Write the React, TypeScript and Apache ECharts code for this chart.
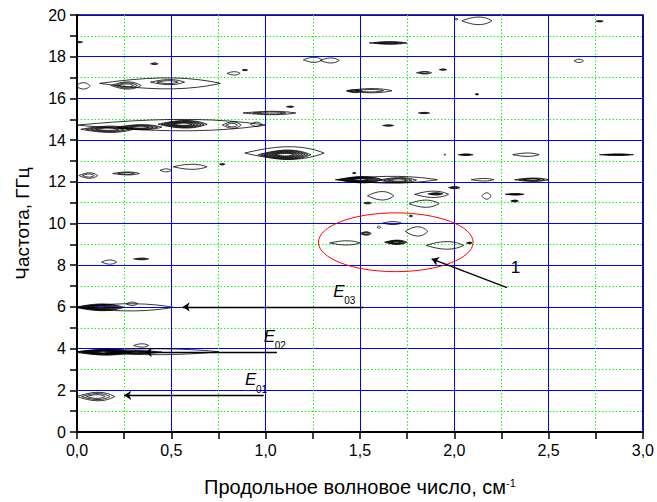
import React, { useEffect, useRef } from "react";
import * as echarts from "echarts";

// Axis settings
const xTicks = { min: 0, max: 3, interval: 0.5 };
const yTicks = { min: 0, max: 20, interval: 2 };

// Contour blobs: [x, y, halfWidth(x units), halfHeight(y units), levels]
const contoursTop: number[][] = [
  [2.12, 19.72, 0.08, 0.18, 1], [2.01, 19.8, 0.01, 0.03, 1], [2.77, 19.7, 0.02, 0.03, 2],
  [0.01, 18.7, 0.02, 0.03, 2], [1.65, 18.66, 0.1, 0.06, 3], [0.41, 17.66, 0.02, 0.04, 2],
  [1.25, 17.85, 0.05, 0.12, 1], [1.34, 17.82, 0.05, 0.12, 1], [0.83, 17.2, 0.035, 0.08, 1],
  [0.89, 17.36, 0.015, 0.03, 2], [1.84, 17.23, 0.04, 0.06, 2], [1.94, 17.38, 0.02, 0.03, 2],
  [2.66, 17.8, 0.025, 0.08, 1], [0.03, 16.6, 0.04, 0.15, 1], [0.44, 16.72, 0.32, 0.26, 1],
  [0.26, 16.62, 0.08, 0.17, 3], [0.48, 16.78, 0.09, 0.12, 2], [1.55, 16.37, 0.12, 0.1, 2],
  [1.47, 16.35, 0.04, 0.07, 2], [2.12, 16.2, 0.01, 0.03, 2], [1.84, 15.3, 0.03, 0.03, 2],
  [1.65, 14.7, 0.03, 0.03, 2], [1.13, 15.6, 0.02, 0.03, 2], [1.02, 15.3, 0.14, 0.08, 2],
];
const contoursMid: number[][] = [
  [0.5, 14.72, 0.5, 0.27, 1], [0.16, 14.52, 0.14, 0.15, 4], [0.33, 14.62, 0.12, 0.12, 4],
  [0.56, 14.76, 0.13, 0.18, 6], [0.82, 14.72, 0.05, 0.15, 2], [0.95, 14.76, 0.03, 0.1, 1],
  [1.1, 13.38, 0.21, 0.3, 1], [1.1, 13.3, 0.14, 0.22, 7], [2.06, 13.3, 0.04, 0.03, 3],
  [2.38, 13.3, 0.07, 0.08, 1], [2.86, 13.3, 0.09, 0.03, 3], [1.95, 13.3, 0.005, 0.02, 1],
  [0.77, 12.84, 0.015, 0.03, 2], [0.06, 12.3, 0.05, 0.13, 2], [0.26, 12.4, 0.07, 0.07, 2],
  [0.47, 12.55, 0.03, 0.07, 1], [0.6, 12.72, 0.09, 0.12, 1], [1.64, 12.1, 0.27, 0.16, 1],
  [1.5, 12.1, 0.12, 0.15, 7], [1.7, 12.08, 0.1, 0.12, 3], [1.47, 12.42, 0.01, 0.03, 2],
  [2.15, 12.1, 0.06, 0.06, 1], [2.41, 12.1, 0.09, 0.08, 3],
  [1.61, 11.33, 0.07, 0.2, 1], [1.88, 11.4, 0.09, 0.15, 1], [1.9, 11.42, 0.04, 0.05, 3],
  [2.0, 11.72, 0.03, 0.05, 3], [2.17, 11.32, 0.025, 0.15, 1], [2.32, 11.4, 0.05, 0.03, 3],
  [2.32, 11.08, 0.02, 0.04, 3], [1.84, 10.95, 0.08, 0.17, 1], [1.54, 10.98, 0.02, 0.04, 2],
];
const contoursLow: number[][] = [
  [1.77, 10.36, 0.01, 0.04, 2], [1.67, 10.02, 0.05, 0.07, 1], [1.53, 9.52, 0.03, 0.08, 3],
  [1.6, 9.82, 0.01, 0.05, 1], [1.8, 9.62, 0.06, 0.22, 1], [1.42, 9.07, 0.08, 0.1, 1],
  [1.69, 9.1, 0.06, 0.1, 5], [1.95, 8.95, 0.1, 0.18, 1], [2.08, 9.07, 0.015, 0.03, 3],
  [0.17, 8.15, 0.04, 0.1, 1], [0.34, 8.3, 0.04, 0.04, 2],
  [0.25, 5.98, 0.26, 0.17, 1], [0.12, 5.98, 0.13, 0.16, 6], [0.29, 6.15, 0.03, 0.08, 1],
  [0.37, 3.85, 0.38, 0.14, 1], [0.14, 3.83, 0.15, 0.14, 7], [0.3, 3.83, 0.15, 0.07, 4],
  [0.34, 4.15, 0.04, 0.08, 1], [0.1, 1.7, 0.1, 0.2, 3],
];

// Arrows: [fromX, fromY, toX, toY]
const arrows: number[][] = [
  [1.52, 6.0, 0.56, 6.0],
  [1.06, 3.82, 0.36, 3.82],
  [0.99, 1.76, 0.25, 1.76],
  [2.28, 6.92, 1.88, 8.3],
];

// Mode labels: [x, y(baseline), main, subscript]
const modeLabels: (string | number)[][] = [
  [1.358, 6.49, "E", "03"],
  [0.99, 4.34, "E", "02"],
  [0.89, 2.24, "E", "01"],
  [2.3, 7.64, "1", ""],
];

// Highlight ellipse: [cx, cy, rx, ry]
const highlight: number[][] = [[1.69, 9.1, 0.41, 1.41]];

const FONT = "Arial, 'Liberation Sans', sans-serif";

function contourRender(_params: any, api: any) {
  const cx = api.value(0), cy = api.value(1), rx = api.value(2), ry = api.value(3), lv = api.value(4);
  const c = api.coord([cx, cy]);
  const s = api.size([rx, ry]);
  const children: any[] = [];
  for (let i = 0; i < lv; i++) {
    const kx = 1 - (i / lv) * 0.75;
    const ky = 1 - (i / lv) * 0.85;
    const pts: number[][] = [];
    const n = 28;
    for (let j = 0; j < n; j++) {
      const t = (j / n) * Math.PI * 2;
      const ct = Math.cos(t), st = Math.sin(t);
      pts.push([
        c[0] + s[0] * kx * ct,
        c[1] - s[1] * ky * st * Math.abs(st) * (1 + 0.25 * ct),
      ]);
    }
    children.push({
      type: "polygon",
      shape: { points: pts },
      style: { fill: "none", stroke: "#000", lineWidth: 0.8 },
    });
  }
  return { type: "group", children };
}

function ellipseRender(_params: any, api: any) {
  const c = api.coord([api.value(0), api.value(1)]);
  const s = api.size([api.value(2), api.value(3)]);
  return {
    type: "ellipse",
    shape: { cx: c[0], cy: c[1], rx: s[0], ry: s[1] },
    style: { fill: "none", stroke: "#ff0000", lineWidth: 1 },
  };
}

function labelRender(params: any, api: any) {
  const item = modeLabels[params.dataIndex];
  const p = api.coord([item[0] as number, item[1] as number]);
  const main = item[2] as string;
  const sub = item[3] as string;
  const children: any[] = [
    {
      type: "text",
      x: p[0],
      y: p[1] + 3,
      style: {
        text: main,
        font: (sub ? "italic " : "") + "17px " + FONT,
        fill: "#000",
        align: "left",
        verticalAlign: "bottom",
      },
    },
  ];
  if (sub) {
    children.push({
      type: "text",
      x: p[0] + 11,
      y: p[1] + 9,
      style: { text: sub, font: "10px " + FONT, fill: "#000", align: "left", verticalAlign: "bottom" },
    });
  }
  return { type: "group", children };
}

export default function App() {
  const ref = useRef<HTMLDivElement>(null);
  useEffect(() => {
    if (!ref.current) return;
    const chart = echarts.init(ref.current, null, { renderer: "svg" });
    const allContours = [...contoursTop, ...contoursMid, ...contoursLow];
    chart.setOption({
      animation: false,
      backgroundColor: "#fff",
      grid: {
        left: 77, right: 10, top: 15, bottom: 68,
        show: true, borderColor: "#000", borderWidth: 1.5, backgroundColor: "transparent",
      },
      xAxis: {
        type: "value",
        min: xTicks.min, max: xTicks.max, interval: xTicks.interval,
        name: "Продольное волновое число, см{sup|-1}",
        nameLocation: "middle",
        nameGap: 45,
        nameTextStyle: {
          fontFamily: FONT, fontSize: 20, color: "#000",
          rich: { sup: { fontFamily: FONT, fontSize: 11, color: "#000", verticalAlign: "top" } },
        },
        axisLine: { show: true, lineStyle: { color: "#000", width: 2 } },
        axisTick: { show: true, inside: false, length: 7, lineStyle: { color: "#000", width: 1.5 } },
        minorTick: { show: true, splitNumber: 2, length: 7, lineStyle: { color: "#000", width: 1.5 } },
        axisLabel: {
          fontFamily: FONT, fontSize: 16, color: "#000", margin: 10,
          formatter: (v: number) => v.toFixed(1).replace(".", ","),
        },
        splitLine: { show: true, lineStyle: { color: "#0000ff", width: 1 } },
        minorSplitLine: { show: true, lineStyle: { color: "#00ff00", width: 1, type: [1.5, 2] } },
      },
      yAxis: {
        type: "value",
        min: yTicks.min, max: yTicks.max, interval: yTicks.interval,
        name: "Частота, ГГц",
        nameLocation: "middle",
        nameGap: 45,
        nameTextStyle: { fontFamily: FONT, fontSize: 19, color: "#000" },
        axisLine: { show: true, lineStyle: { color: "#000", width: 2 } },
        axisTick: { show: true, inside: false, length: 7, lineStyle: { color: "#000", width: 1.5 } },
        minorTick: { show: true, splitNumber: 2, length: 7, lineStyle: { color: "#000", width: 1.5 } },
        axisLabel: { fontFamily: FONT, fontSize: 16, color: "#000", margin: 11 },
        splitLine: { show: true, lineStyle: { color: "#0000ff", width: 1 } },
        minorSplitLine: { show: true, lineStyle: { color: "#00ff00", width: 1, type: [1.5, 2] } },
      },
      series: [
        {
          type: "custom",
          coordinateSystem: "cartesian2d",
          renderItem: contourRender,
          data: allContours,
          clip: true,
          silent: true,
        },
        {
          type: "custom",
          coordinateSystem: "cartesian2d",
          renderItem: ellipseRender,
          data: highlight,
          silent: true,
        },
        {
          type: "lines",
          coordinateSystem: "cartesian2d",
          symbol: ["none", "arrow"],
          symbolSize: 7,
          lineStyle: { color: "#000", width: 1.3, opacity: 1 },
          data: arrows.map((a) => ({ coords: [[a[0], a[1]], [a[2], a[3]]] })),
          silent: true,
        },
        {
          type: "custom",
          coordinateSystem: "cartesian2d",
          renderItem: labelRender,
          data: modeLabels.map((m) => [m[0], m[1]]),
          silent: true,
        },
      ],
    });
    return () => chart.dispose();
  }, []);
  return (
    <div
      ref={ref}
      style={{ position: "absolute", left: 0, top: 0, width: 657, height: 502 }}
    />
  );
}
